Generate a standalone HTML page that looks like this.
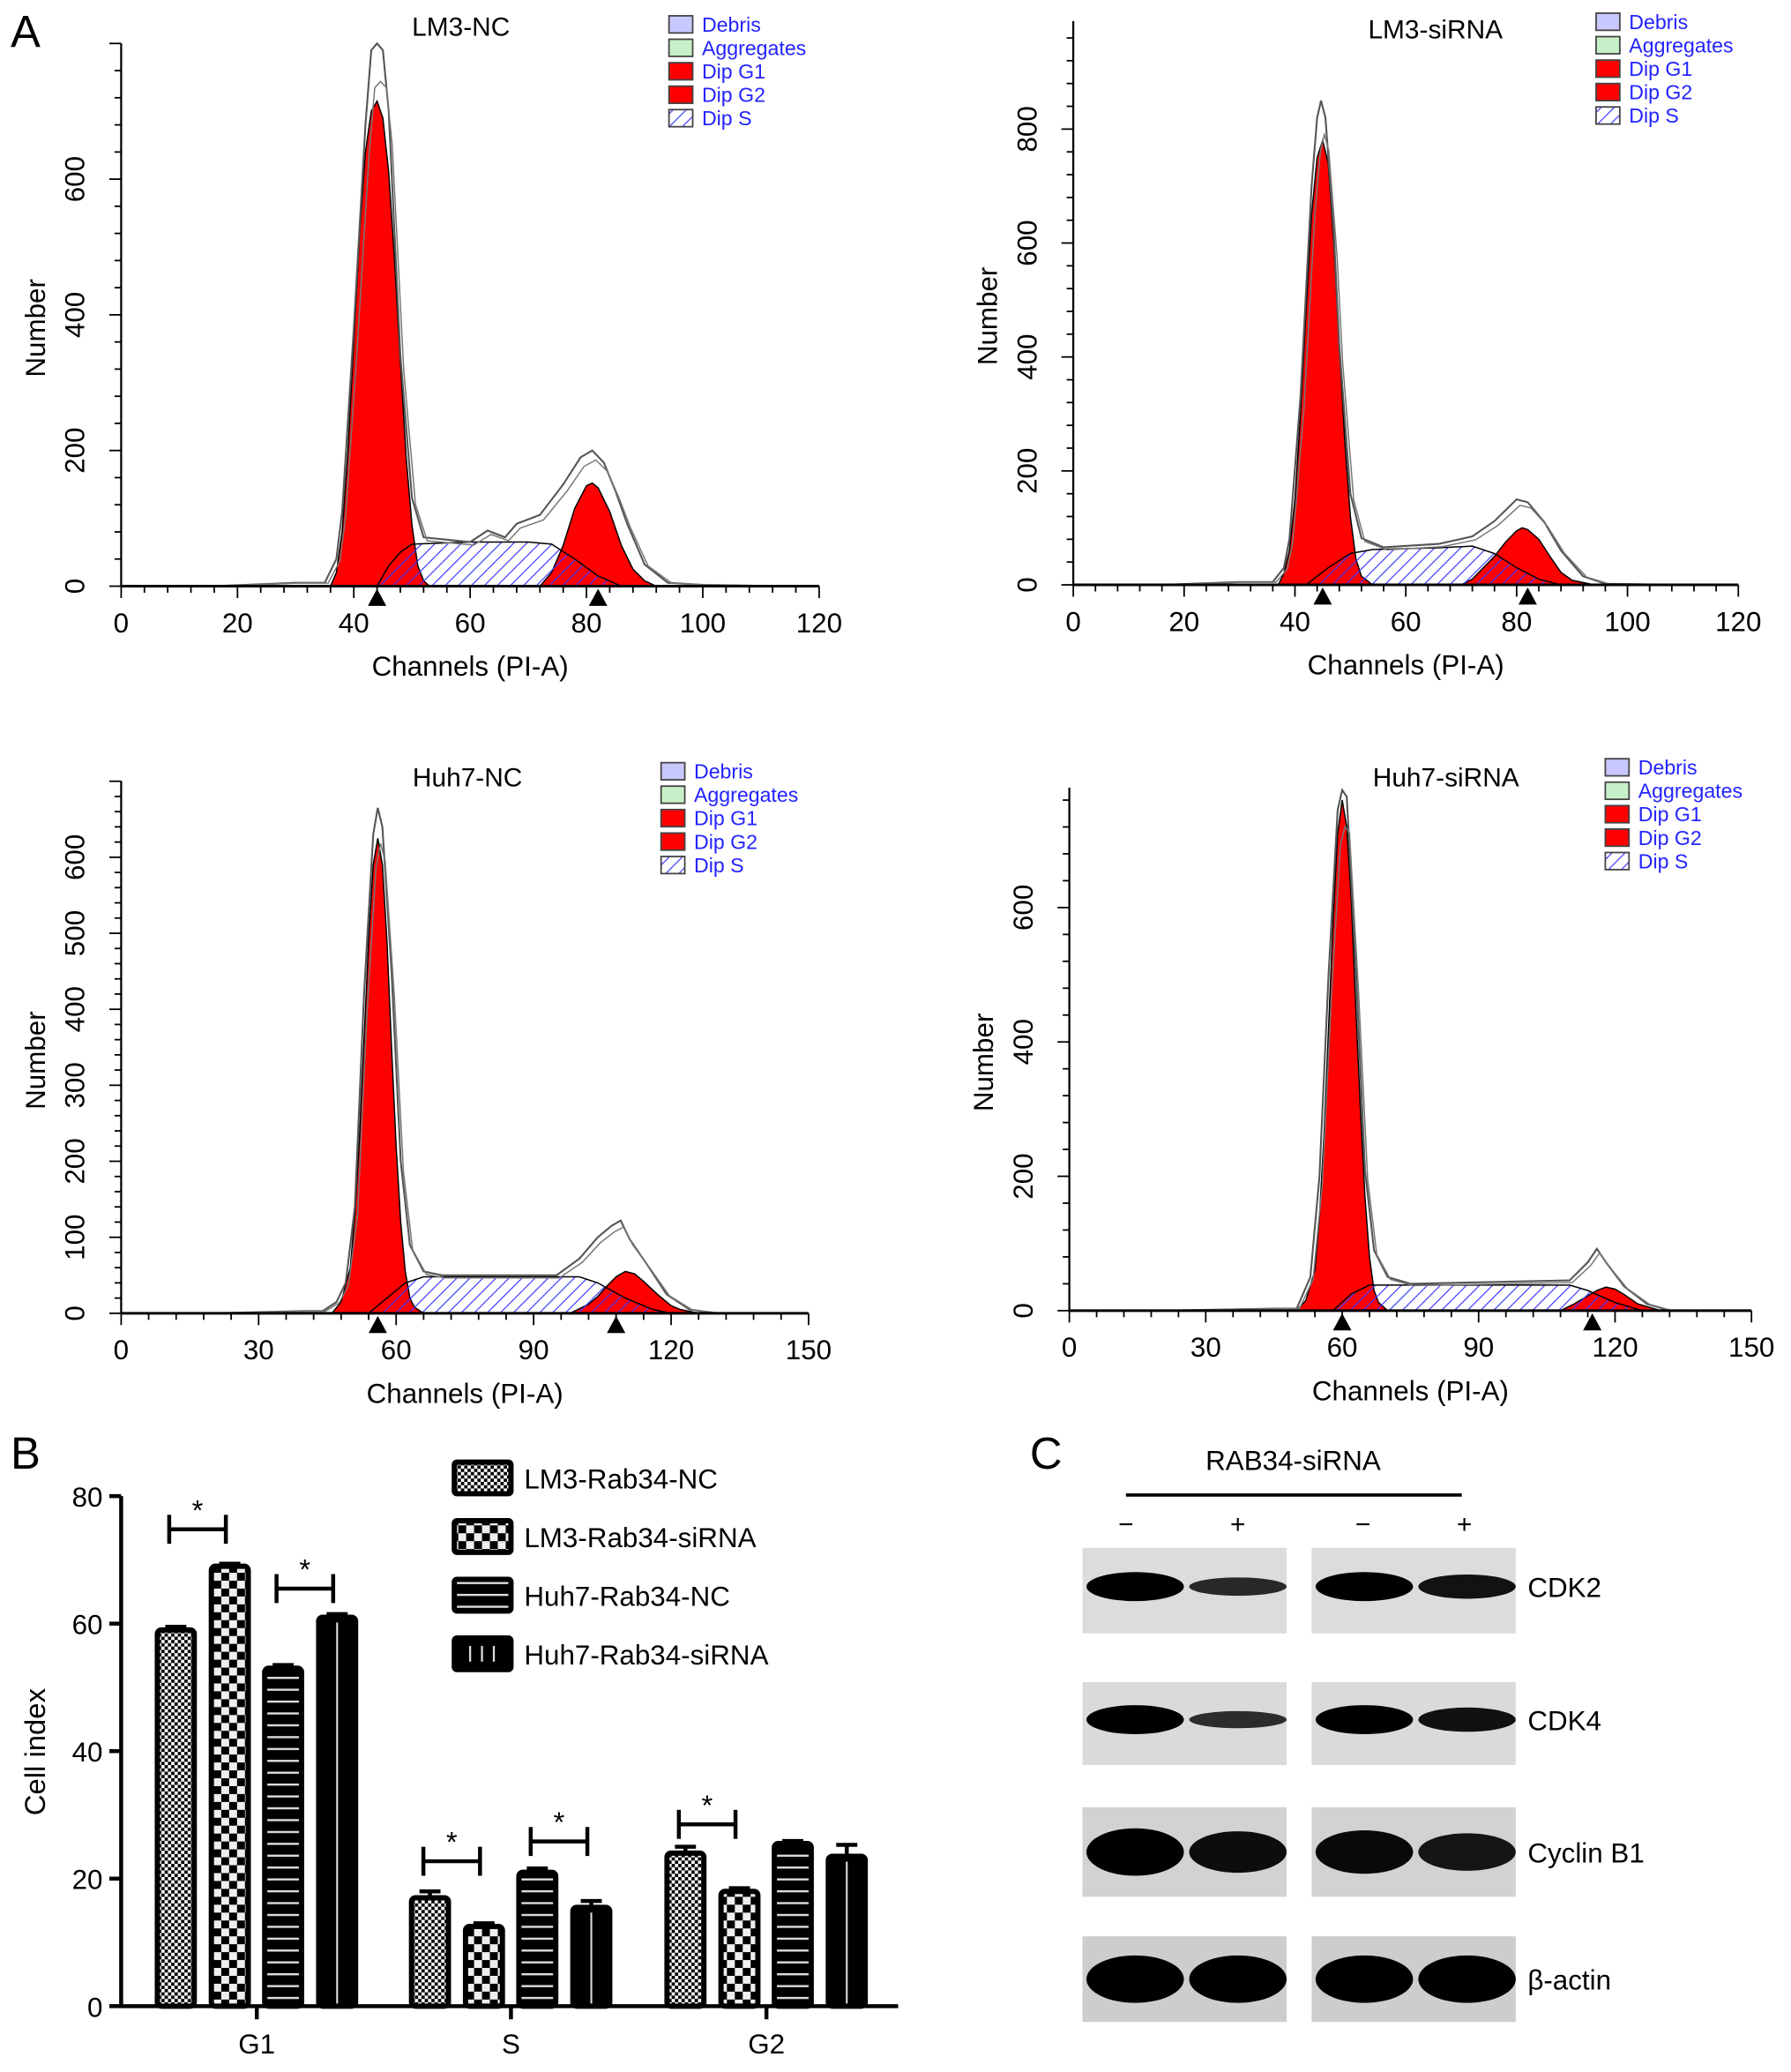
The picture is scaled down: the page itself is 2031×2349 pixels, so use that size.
<!DOCTYPE html>
<html><head><meta charset="utf-8"><style>
html,body{margin:0;padding:0;background:#fff;}
svg{display:block;font-family:"Liberation Sans",Arial,sans-serif;}
</style></head><body>
<svg id="fig" width="2031" height="2349" viewBox="0 0 1360 1573" preserveAspectRatio="none" xmlns="http://www.w3.org/2000/svg">
<defs>
<pattern id="hatch" width="7" height="7" patternUnits="userSpaceOnUse" patternTransform="rotate(45)"><line x1="0" y1="0" x2="0" y2="7" stroke="#3a3aff" stroke-width="1.6"/></pattern>
<pattern id="fineChk" width="5" height="5" patternUnits="userSpaceOnUse"><rect width="5" height="5" fill="#fff"/><rect width="2.5" height="2.5" fill="#000"/><rect x="2.5" y="2.5" width="2.5" height="2.5" fill="#000"/></pattern>
<pattern id="bigChk" width="12" height="12" patternUnits="userSpaceOnUse"><rect width="12" height="12" fill="#000"/><rect width="6" height="6" fill="#eee"/><rect x="6" y="6" width="6" height="6" fill="#eee"/></pattern>
<pattern id="hLines" width="10" height="9" patternUnits="userSpaceOnUse"><rect width="10" height="9" fill="#000"/><rect y="4" width="10" height="1.6" fill="#ddd"/></pattern>
</defs>
<text x="8" y="36" font-size="34">A</text>
<text x="8" y="1115" font-size="34">B</text>
<text x="782" y="1115" font-size="34">C</text>
<g id="gA"></g><g id="gB"></g><g id="gC"></g>
</svg>
<script>
// ---------- Panel A data ----------
const lm3ncG1=[[36,0],[37,20],[38,80],[39,200],[40,360],[41,520],[42,640],[43,700],[44,715],[45,690],[46,610],[47,480],[48,330],[49,190],[50,90],[51,30],[52,8],[53,0]];
const lm3ncS=[[44,0],[46,30],[48,50],[50,62],[60,65],[70,65],[74,62],[78,40],[82,15],[86,0]];
const lm3ncG2=[[72,0],[74,20],[76,60],[78,115],[80,148],[81,152],[82,145],[84,110],[86,60],[88,25],[90,8],[92,0]];
const lm3ncTot=[[16,0],[30,5],[35,5],[37,40],[38,110],[40,380],[42,680],[43,790],[44,800],[45,790],[46,700],[47,520],[48,340],[50,130],[52,72],[60,65],[63,82],[66,72],[68,92],[72,105],[76,150],[79,190],[81,200],[83,182],[85,140],[87,92],[90,32],[94,5],[100,2],[114,0]];
const lm3siG1=[[37,0],[38,20],[39,60],[40,150],[41,300],[42,480],[43,650],[44,750],[45,780],[46,740],[47,600],[48,420],[49,250],[50,120],[51,45],[52,15],[54,0]];
const lm3siS=[[42,0],[46,30],[50,55],[54,62],[66,65],[72,68],[76,55],[80,30],[84,10],[88,0]];
const lm3siG2=[[70,0],[72,10],[74,30],[76,50],[78,75],[80,95],[81,100],[82,97],[84,80],[86,50],[88,22],[90,8],[94,0]];
const lm3siTot=[[16,0],[30,5],[36,5],[38,30],[39,80],[41,330],[43,700],[44,820],[44.7,850],[45.5,820],[47,620],[48,420],[50,160],[52,82],[56,66],[66,72],[72,85],[76,112],[80,150],[82,145],[85,110],[88,60],[92,15],[96,2],[110,0]];
const huhncG1=[[46,0],[48,15],[50,60],[51,130],[52,230],[53,360],[54,490],[55,590],[56,625],[57,590],[58,490],[59,350],[60,220],[61,120],[62,55],[63,20],[64,8],[66,0]];
const huhncS=[[54,0],[58,20],[62,40],[66,48],[100,48],[104,40],[110,20],[116,5],[120,0]];
const huhncG2=[[98,0],[102,12],[104,22],[106,36],[108,48],[110,55],[112,52],[114,42],[117,25],[120,10],[122,5],[126,0]];
const huhncTot=[[20,0],[40,3],[44,3],[47,15],[49,40],[51,140],[53,420],[55,630],[56,665],[57,640],[59,450],[61,200],[63,90],[66,55],[70,50],[95,50],[100,72],[104,100],[107,115],[109,122],[111,97],[115,62],[119,25],[124,5],[130,0]];
const huhsiG1=[[50,0],[52,15],[54,60],[55,140],[56,260],[57,420],[58,580],[59,710],[60,760],[61,720],[62,610],[63,450],[64,300],[65,170],[66,80],[67,30],[68,12],[70,0]];
const huhsiS=[[58,0],[62,25],[66,38],[110,38],[114,30],[120,12],[126,0]];
const huhsiG2=[[108,0],[111,10],[113,18],[116,30],[118,35],[120,32],[122,24],[125,10],[130,0]];
const huhsiTot=[[20,0],[45,3],[50,3],[53,50],[55,200],[57,500],[59,745],[60,775],[61,765],[63,510],[65,210],[67,90],[70,50],[75,40],[110,45],[114,72],[116,92],[118,72],[122,36],[127,10],[132,0]];
const lm3ncXTicks=[0,20,40,60,80,100,120], lm3ncYTicks=[0,200,400,600];
const lm3siXTicks=[0,20,40,60,80,100,120], lm3siYTicks=[0,200,400,600,800];
const huhncXTicks=[0,30,60,90,120,150], huhncYTicks=[0,100,200,300,400,500,600];
const huhsiXTicks=[0,30,60,90,120,150], huhsiYTicks=[0,200,400,600];
const lm3ncMarks=[44,82], lm3siMarks=[45,82], huhncMarks=[56,108], huhsiMarks=[60,115];
const legendItems=["Debris","Aggregates","Dip G1","Dip G2","Dip S"];
// ---------- Panel B data ----------
const phases=["G1","S","G2"];
const seriesNames=["LM3-Rab34-NC","LM3-Rab34-siRNA","Huh7-Rab34-NC","Huh7-Rab34-siRNA"];
const lm3NC=[59,17,24];
const lm3Si=[69,12.5,18];
const huhNC=[53,21,25.5];
const huhSi=[61,15.5,23.5];
const lm3NCerr=[0.5,1,1];
const lm3SiErr=[0.4,0.5,0.5];
const huhNCerr=[0.5,0.6,0.4];
const huhSiErr=[0.5,1,1.8];
const bTicks=[0,20,40,60,80];
// ---------- Panel C data ----------
const blotRows=["CDK2","CDK4","Cyclin B1","β-actin"];
const bandIntensity=[[1,0.55,1,0.8],[1,0.5,1,0.8],[1,0.85,0.9,0.75],[1,1,1,1]];

const NS="http://www.w3.org/2000/svg";
function mk(p,tag,attrs,txt){const e=document.createElementNS(NS,tag);for(const k in attrs)e.setAttribute(k,attrs[k]);if(txt!==undefined)e.textContent=txt;p.appendChild(e);return e;}

function histPanel(cfg,g1,s,g2,tot,xt,yt,marks){
  const G=mk(document.getElementById('gA'),'g',{});
  
  
  const X=v=>cfg.x0+(v/cfg.xmax)*(cfg.x1-cfg.x0);
  const Y=v=>cfg.y0-v*cfg.ky;
  const poly=(d)=>{let p='M'+X(d[0][0])+','+cfg.y0;d.forEach(q=>p+=' L'+X(q[0])+','+Y(q[1]));p+=' L'+X(d[d.length-1][0])+','+cfg.y0+'Z';return p;};
  const line=(d)=>d.map((q,i)=>(i?'L':'M')+X(q[0])+','+Y(q[1])).join(' ');
  let e=mk(G,'path',{d:poly(g1),fill:'#f00',stroke:'#000','stroke-width':1});
  
  e=mk(G,'path',{d:poly(g2),fill:'#f00',stroke:'#000','stroke-width':1});
  
  e=mk(G,'path',{d:poly(s),fill:'url(#hatch)',stroke:'#000','stroke-width':1});
  
  e=mk(G,'path',{d:line(tot),fill:'none',stroke:'#555','stroke-width':1.4});
  
  const tot2=tot.map(q=>[q[0]+0.6,q[1]*0.93]);
  e=mk(G,'path',{d:line(tot2),fill:'none',stroke:'#777','stroke-width':1});
  
  mk(G,'line',{x1:cfg.x0,y1:cfg.y0,x2:cfg.x1,y2:cfg.y0,stroke:'#000','stroke-width':2});
  mk(G,'line',{x1:cfg.x0,y1:cfg.y0,x2:cfg.x0,y2:cfg.ytop,stroke:'#000','stroke-width':1.5});
  const xs=xt[1]-xt[0];
  for(let v=0;v<=cfg.xmax+0.01;v+=xs/5){const major=Math.abs(v/xs-Math.round(v/xs))<0.01;mk(G,'line',{x1:X(v),y1:cfg.y0,x2:X(v),y2:cfg.y0+(major?9:5),stroke:'#000','stroke-width':1.2});}
  xt.forEach(v=>{const t=mk(G,'text',{x:X(v),y:cfg.y0+35,'font-size':21,'text-anchor':'middle'},v);});
  const ys=yt[1]-yt[0];const ymaxv=(cfg.y0-cfg.ytop)/cfg.ky;
  for(let v=0;v<=ymaxv;v+=ys/5){const major=Math.abs(v/ys-Math.round(v/ys))<0.01;mk(G,'line',{x1:cfg.x0,y1:Y(v),x2:cfg.x0-(major?9:5),y2:Y(v),stroke:'#000','stroke-width':1.2});}
  yt.forEach(v=>{const t=mk(G,'text',{x:cfg.x0-28,y:Y(v),'font-size':21,'text-anchor':'middle',transform:`rotate(-90 ${cfg.x0-28} ${Y(v)})`},v);});
  marks.forEach(v=>{const m=mk(G,'path',{d:`M${X(v)-7},${cfg.y0+15} L${X(v)+7},${cfg.y0+15} L${X(v)},${cfg.y0+2}Z`,fill:'#000'});});
  let t=mk(G,'text',{x:(cfg.x0+cfg.x1)/2,y:cfg.y0+68,'font-size':21,'text-anchor':'middle'},'Channels (PI-A)');
  
  const ym=(cfg.y0+cfg.ytop)/2+10;
  t=mk(G,'text',{x:cfg.x0-58,y:ym,'font-size':21,'text-anchor':'middle',transform:`rotate(-90 ${cfg.x0-58} ${ym})`},'Number');
  
  t=mk(G,'text',{x:cfg.tx,y:cfg.ty,'font-size':20,'text-anchor':'middle'},cfg.title);
  
  const fills=['#c8c8ff','#c8f0c8','#f00','#f00','url(#hatch)'];
  legendItems.forEach((n,i)=>{const yy=cfg.ly+i*17.8;
    const lg=mk(G,'g',{});
    mk(lg,'rect',{x:cfg.lx,y:yy,width:18,height:13,fill:fills[i],stroke:'#444','stroke-width':1.2});
    mk(lg,'text',{x:cfg.lx+25,y:yy+12,'font-size':15.5,fill:'#2323ff'},n);});
}
histPanel({name:'histogram-lm3-nc',x0:92,x1:622,xmax:120,y0:445,ky:0.515,ytop:33,title:'LM3-NC',tx:350,ty:27,lx:508,ly:12},lm3ncG1,lm3ncS,lm3ncG2,lm3ncTot,lm3ncXTicks,lm3ncYTicks,lm3ncMarks);
histPanel({name:'histogram-lm3-sirna',x0:815,x1:1320,xmax:120,y0:444,ky:0.4325,ytop:16,title:'LM3-siRNA',tx:1090,ty:29,lx:1212,ly:10},lm3siG1,lm3siS,lm3siG2,lm3siTot,lm3siXTicks,lm3siYTicks,lm3siMarks);
histPanel({name:'histogram-huh7-nc',x0:92,x1:614,xmax:150,y0:997,ky:0.577,ytop:593,title:'Huh7-NC',tx:355,ty:597,lx:502,ly:579},huhncG1,huhncS,huhncG2,huhncTot,huhncXTicks,huhncYTicks,huhncMarks);
histPanel({name:'histogram-huh7-sirna',x0:812,x1:1330,xmax:150,y0:995,ky:0.51,ytop:598,title:'Huh7-siRNA',tx:1098,ty:597,lx:1219,ly:576},huhsiG1,huhsiS,huhsiG2,huhsiTot,huhsiXTicks,huhsiYTicks,huhsiMarks);

// ---------- Panel B ----------
(function(){
  const G=document.getElementById('gB');
  const x0=92,x1=682,y0=1523,ky=4.84;
  const Y=v=>y0-v*ky;
  const centers=[195,388,582], offs=[-61.5,-20.5,20,61], bw=28;
  const fills=['url(#fineChk)','url(#bigChk)','url(#hLines)','#000'];
  const vals=[lm3NC,lm3Si,huhNC,huhSi], errs=[lm3NCerr,lm3SiErr,huhNCerr,huhSiErr];
  phases.forEach((p,pi)=>{
    vals.forEach((arr,si)=>{
      const cx=centers[pi]+offs[si], v=arr[pi], e=errs[si][pi];
      const b=mk(G,'rect',{x:cx-bw/2,y:Y(v),width:bw,height:Y(0)-Y(v),fill:fills[si],stroke:'#000','stroke-width':4,rx:3});
      
      
      if(si===3){mk(G,'line',{x1:cx,y1:Y(v)+4,x2:cx,y2:Y(0)-2,stroke:'#ddd','stroke-width':1.4});}
      mk(G,'line',{x1:cx,y1:Y(v),x2:cx,y2:Y(v+e),stroke:'#000','stroke-width':3});
      mk(G,'line',{x1:cx-8,y1:Y(v+e),x2:cx+8,y2:Y(v+e),stroke:'#000','stroke-width':3});
    });
  });
  const sig=[[0,0,1,1161],[0,2,3,1206],[1,0,1,1413],[1,2,3,1398],[2,0,1,1385]];
  sig.forEach(s=>{const a=centers[s[0]]+offs[s[1]]-5,b=centers[s[0]]+offs[s[2]]-3,y=s[3];
    const g=mk(G,'g',{});
    mk(g,'line',{x1:a,y1:y,x2:b,y2:y,stroke:'#000','stroke-width':3});
    mk(g,'line',{x1:a,y1:y-11,x2:a,y2:y+11,stroke:'#000','stroke-width':3});
    mk(g,'line',{x1:b,y1:y-11,x2:b,y2:y+11,stroke:'#000','stroke-width':3});
    mk(g,'text',{x:(a+b)/2,y:y-7,'font-size':22,'text-anchor':'middle'},'*');});
  mk(G,'line',{x1:x0,y1:y0,x2:x1,y2:y0,stroke:'#000','stroke-width':3});
  mk(G,'line',{x1:x0,y1:y0+1,x2:x0,y2:Y(80),stroke:'#000','stroke-width':3});
  bTicks.forEach(v=>{mk(G,'line',{x1:x0-9,y1:Y(v),x2:x0,y2:Y(v),stroke:'#000','stroke-width':3});
    const t=mk(G,'text',{x:x0-14,y:Y(v)+8,'font-size':21,'text-anchor':'end'},v);});
  phases.forEach((p,i)=>{mk(G,'line',{x1:centers[i],y1:y0,x2:centers[i],y2:y0+10,stroke:'#000','stroke-width':3});
    const t=mk(G,'text',{x:centers[i],y:y0+36,'font-size':21,'text-anchor':'middle'},p);});
  let t=mk(G,'text',{x:34,y:1330,'font-size':22,'text-anchor':'middle',transform:'rotate(-90 34 1330)'},'Cell index');
  
  seriesNames.forEach((n,i)=>{const yy=1108+i*44.5;
    const lg=mk(G,'g',{});
    mk(lg,'rect',{x:345,y:yy+2,width:43,height:24,fill:fills[i],stroke:'#000','stroke-width':4,rx:2});
    if(i===3){[357,366,375].forEach(x=>mk(lg,'line',{x1:x,y1:yy+8,x2:x,y2:yy+20,stroke:'#ddd','stroke-width':1.5}));}
    mk(lg,'text',{x:398,y:yy+22,'font-size':21},n);});
})();

// ---------- Panel C ----------
(function(){
  const G=document.getElementById('gC');
  let t=mk(G,'text',{x:982,y:1116,'font-size':21,'text-anchor':'middle'},'RAB34-siRNA');
  
  mk(G,'line',{x1:855,y1:1135,x2:1110,y2:1135,stroke:'#000','stroke-width':2.5});
  [['−',855],['+',940],['−',1035],['+',1112]].forEach(s=>{const e=mk(G,'text',{x:s[1],y:1164,'font-size':20,'text-anchor':'middle'},s[0]);});
  const rows=[[1175,1240,'#dcdcdc'],[1277,1340,'#dadada'],[1372,1440,'#d2d2d2'],[1470,1535,'#cdcdcd']];
  const blocks=[822,996], bw=155;
  blotRows.forEach((name,ri)=>{
    const [ya,yb,col]=rows[ri]; const cy=(ya+yb)/2+ (ri<2?-3:0);
    blocks.forEach((bx,bi)=>{
      const r=mk(G,'rect',{x:bx,y:ya,width:bw,height:yb-ya,fill:col});
      
      [0,1].forEach(li=>{const inten=bandIntensity[ri][bi*2+li];
        const hh=(ri>=2?15:9)*inten+ (ri>=2?3:2);
        mk(G,'ellipse',{cx:bx+40+li*78,cy:cy,rx:37,ry:hh,fill:'#000',opacity:0.6+0.4*inten});});
    });
    t=mk(G,'text',{x:1160,y:cy+8,'font-size':21},name);
    
  });
})();
</script>
</body></html>
